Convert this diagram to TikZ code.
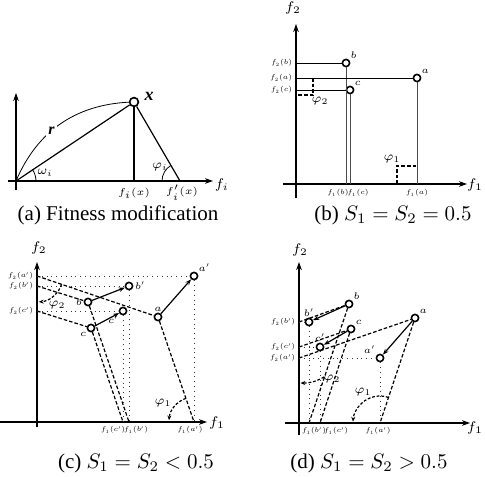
\RequirePackage{fix-cm}
\documentclass[tikz,border=0pt]{standalone}
\usepackage{fontspec}
\setmainfont{Liberation Serif}
\usetikzlibrary{arrows.meta,calc}
\tikzset{
  axis/.style={-{Stealth[length=4pt,width=2.8pt]}, semithick},
  sol/.style={circle, draw=black, thick, fill=white, inner sep=0pt,
    minimum size=3.6pt},
  move/.style={-{Stealth[length=3pt,width=2.2pt]}, semithick},
  guide/.style={semithick, dash pattern=on 1.8pt off 1pt},
  proj/.style={thin, dotted, black!80},
  marker/.style={semithick, dash pattern=on 1.4pt off 0.9pt,
    -{Stealth[length=2.4pt,width=2pt]}},
  ticklab/.style={font=\fontsize{3.5}{4}\selectfont, inner sep=0.2pt},
  ptlab/.style={font=\fontsize{4.8}{5}\selectfont, inner sep=0.6pt},
  anglab/.style={font=\fontsize{6.2}{6}\selectfont, inner sep=0.3pt},
  axlab/.style={font=\fontsize{7}{7}\selectfont, inner sep=0.3pt},
  captionlab/.style={font=\fontsize{10.5}{12}\selectfont, inner sep=0pt}
}
\newcommand{\axispair}[5][]{
  \draw[axis] (#2,0) -- (#3,0);
  \draw[axis,#1] (0,#4) -- (0,#5);
}

\begin{document}
\begin{tikzpicture}[x=0.5pt, y=0.5pt]
  \useasboundingbox (0,0) rectangle (485,476);

  % (a) fitness modification
  \begin{scope}[shift={(16,295)}]
    \axispair{-8}{197}{-9}{88}
    \coordinate (a-o) at (0,0);
    \coordinate (a-fx) at (118,0);
    \coordinate (a-fpx) at (164,0);
    \node[sol, minimum size=4.4pt] (a-x) at (118,79) {};
    \node[font=\fontsize{9}{9}\selectfont\bfseries\itshape] at (133,85) {x};
    \draw[semithick] (a-o) -- (a-x);
    \draw[semithick] (a-x) -- (a-fx);
    \draw[semithick] (a-x) -- (a-fpx);
    \draw[thin] (a-o) to[bend left=32]
      node[pos=0.42, fill=white, inner sep=1pt,
        font=\fontsize{8}{8}\selectfont\bfseries\itshape] {r} (a-x);
    \draw[thin] (20,0) arc[start angle=0, end angle=33.8, radius=20];
    \node[anglab] at (29,8) {$\omega_i$};
    \draw[thin] (146,0) arc[start angle=180, end angle=120.2, radius=18];
    \node[anglab] at (144,14) {$\varphi_i$};
    \node[axlab] at (206,-4) {$f_i$};
    \node[font=\fontsize{5}{5}\selectfont] at (118,-12) {$f_i(x)$};
    \node[font=\fontsize{5}{5}\selectfont] at (166,-12) {$f_i'(x)$};
  \end{scope}
  \node[captionlab] at (118,261) {(a) Fitness modification};

  % (b) S1 = S2 = 0.5
  \begin{scope}[shift={(296,292)}]
    \axispair{-13}{171}{-14}{160}
    \node[axlab] at (-3,176) {$f_2$};
    \node[axlab] at (179,-1) {$f_1$};
    \node[sol, label={[ptlab]above right:$b$}] (b-b) at (50,121) {};
    \node[sol, label={[ptlab]above right:$a$}] (b-a) at (121,106) {};
    \node[sol, label={[ptlab]above right:$c$}] (b-c) at (54,94) {};
    \foreach \p/\x/\y/\t in {b/50/121/42, a/121/106/121, c/54/94/62}{
      \coordinate (b-\p1) at (\x,0);
      \coordinate (b-\p2) at (0,\y);
      \draw[thin] (b-\p2) -- (b-\p);
      \draw[thin, black!70] (b-\p) -- (b-\p1);
      \node[ticklab, anchor=east] at (-3,\y) {$f_2(\p)$};
      \node[ticklab] at (\t,-9) {$f_1(\p)$};
    }
    \draw[guide] (17,106) -- (17,89) -- (0,89);
    \node[anglab] at (24,83) {$\varphi_2$};
    \draw[guide] (101,0) -- (101,18) -- (121,18);
    \node[anglab] at (96,25) {$\varphi_1$};
  \end{scope}
  \node[captionlab] at (393,261) {(b) $S_1 = S_2 = 0.5$};

  % (c) S1 = S2 < 0.5
  \begin{scope}[shift={(37,54)}]
    \axispair{-37}{170}{-5}{160}
    \node[axlab] at (2,174) {$f_2$};
    \node[axlab] at (180,-1) {$f_1$};
    \node[sol, label={[ptlab]above:$a$}] (c-a) at (121,105) {};
    \node[sol, label={[ptlab]above right:$a'$}] (c-ap) at (157,146) {};
    \node[sol, label={[ptlab]left:$b$}] (c-b) at (51,120) {};
    \node[sol, label={[ptlab]right:$b'$}] (c-bp) at (92,136) {};
    \node[sol, label={[ptlab]below left:$c$}] (c-c) at (54,94) {};
    \node[sol, label={[ptlab]below left:$c'$}] (c-cp) at (86,111) {};
    \foreach \p/\x/\y/\t in {a/157/146/153, b/92/136/99, c/86/111/76}{
      \coordinate (c-\p1) at (\x,0);
      \coordinate (c-\p2) at (0,\y);
      \draw[guide] (c-\p2) -- (c-\p) -- (c-\p1);
      \draw[proj] (c-\p2) -- (c-\p p) -- (c-\p1);
      \draw[move] (c-\p) -- (c-\p p);
      \node[ticklab, anchor=east] at (-3,\y) {$f_2(\p')$};
      \node[ticklab] at (\t,-8) {$f_1(\p')$};
    }
    \draw[marker] (24.6,137.7) arc[start angle=-18.7, end angle=-86, radius=26];
    \node[anglab] at (20,117) {$\varphi_2$};
    \draw[marker] (148.9,23.65) arc[start angle=108.9, end angle=176, radius=25];
    \node[anglab] at (126,19) {$\varphi_1$};
  \end{scope}
  \node[captionlab] at (136,13) {(c) $S_1 = S_2 < 0.5$};

  % (d) S1 = S2 > 0.5
  \begin{scope}[shift={(299,53)}]
    \axispair[line width=1.1pt]{-14}{171}{-12}{161}
    \node[axlab] at (1,173) {$f_2$};
    \node[axlab] at (176,-5) {$f_1$};
    \node[sol, label={[ptlab]above right:$a$}] (d-a) at (116,105) {};
    \node[sol, label={[ptlab]above left:$a'$}] (d-ap) at (81,65) {};
    \node[sol, label={[ptlab]above right:$b$}] (d-b) at (50,119) {};
    \node[sol, label={[ptlab]above:$b'$}] (d-bp) at (10,101) {};
    \node[sol, label={[ptlab]above right:$c$}] (d-c) at (52,94) {};
    \node[sol, label={[ptlab]above:$c'$}] (d-cp) at (21,76) {};
    \foreach \p/\x/\y in {a/81/65, b/10/101, c/21/76}{
      \coordinate (d-\p1) at (\x,0);
      \coordinate (d-\p2) at (0,\y);
      \draw[guide] (d-\p2) -- (d-\p) -- (d-\p1);
      \draw[proj] (d-\p2) -- (d-\p p) -- (d-\p1);
      \draw[move] (d-\p) -- (d-\p p);
      \node[ticklab, anchor=east] at (-3,\y) {$f_2(\p')$};
    }
    \node[ticklab, anchor=west] at (2,-8) {$f_1(b')$};
    \node[ticklab, anchor=west] at (24,-8) {$f_1(c')$};
    \node[ticklab] at (79,-8) {$f_1(a')$};
    \draw[marker] (25,46) to[bend left=15] (1.5,40);
    \node[anglab] at (33,44) {$\varphi_2$};
    \draw[marker] (89.5,25.6) arc[start angle=71.6, end angle=177, radius=27];
    \node[anglab] at (64,31) {$\varphi_1$};
  \end{scope}
  \node[captionlab] at (369,13) {(d) $S_1 = S_2 > 0.5$};
\end{tikzpicture}
\end{document}
